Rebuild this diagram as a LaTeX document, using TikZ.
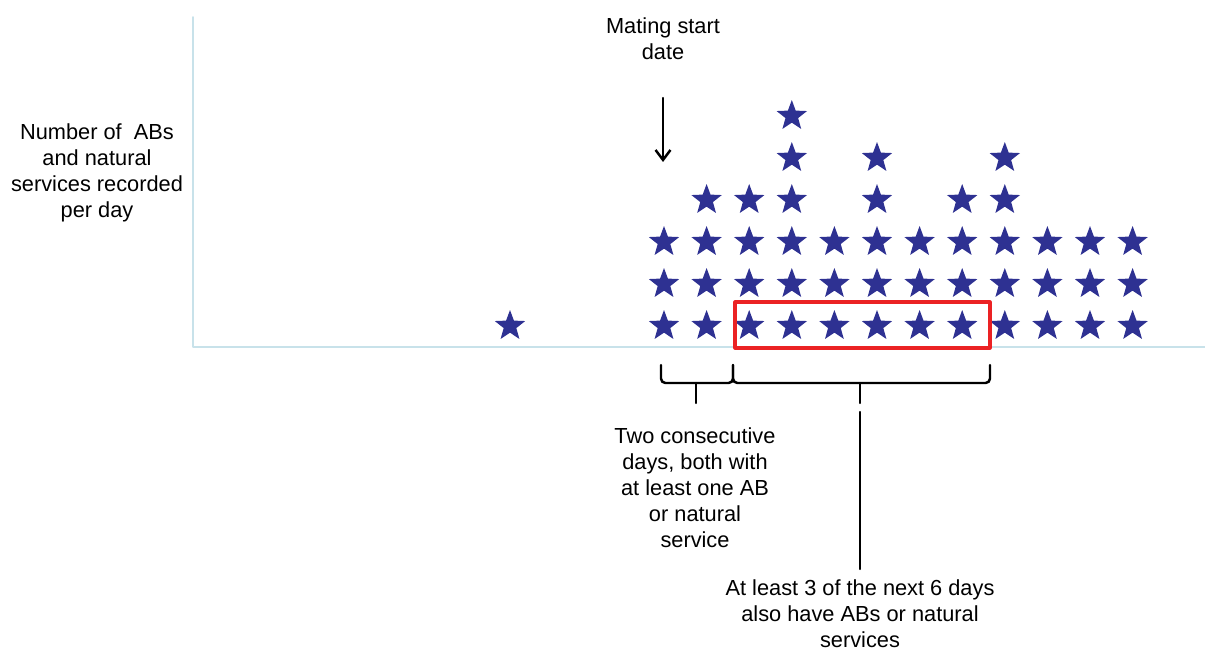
\documentclass[tikz,border=0pt]{standalone}
\usepackage{fontspec}
\setmainfont{Liberation Sans}
\usetikzlibrary{shapes.geometric,arrows.meta}
\definecolor{starblue}{RGB}{46,49,146}
\definecolor{axisblue}{RGB}{200,226,234}
\definecolor{boxred}{RGB}{235,34,36}
\begin{document}
\begin{tikzpicture}[x=0.02cm,y=-0.02cm,line cap=round,line join=round,
  ab/.style={star,star points=5,star point ratio=2.4,fill=starblue,draw=none,inner sep=0pt,minimum size=0.64cm},
  lbl/.style={align=center,inner sep=0pt,font=\fontsize{12.4}{14.8}\selectfont},
  brk/.style={line width=1.4pt,rounded corners=2.5pt}]
\useasboundingbox (0,0) rectangle (1205,652);
\coordinate (ytop) at (193,17);
\coordinate (origin) at (193,347);
\coordinate (xend) at (1205,347);
\draw[axisblue,line width=1.1pt] (ytop) -- (origin) -- (xend);
\node[ab] (s) at (510,326) {};
\foreach \i/\n in {0/3,1/4,2/4,3/6,4/3,5/5,6/3,7/4,8/5,9/3,10/3,11/3}
  \foreach \j in {1,...,\n}
    \node[ab] (s\i-\j) at (664+42.6*\i,368-42*\j) {};
\draw[boxred,line width=1.8pt] (735,302) rectangle (990,348);
\node[lbl,anchor=north] (ylbl) at (97,123) {Number of~ ABs\\and natural\\services recorded\\per day};
\node[lbl,anchor=north] (start) at (663,17) {Mating start\\date};
\coordinate (arrowtop) at (663,98);
\coordinate (arrowend) at (663,162);
\draw[-{Straight Barb[length=0.2cm,width=0.3cm]},line width=1.4pt] (arrowtop) -- (arrowend);
\coordinate (b1) at (661,365);
\coordinate (b2) at (733,365);
\coordinate (b3) at (990,365);
\coordinate (t1) at (696,383);
\coordinate (t2) at (860,383);
\coordinate (t1tip) at (696,403);
\coordinate (t2tip) at (860,403);
\draw[brk] (b1) |- (t1) -| (b2);
\draw[brk] (b2) |- (t2) -| (b3);
\draw[brk] (t1) -- (t1tip);
\draw[brk] (t2) -- (t2tip);
\node[lbl,anchor=north] (twodays) at (695,427) {Two consecutive\\days, both with\\at least one AB\\or natural\\service};
\node[lbl,anchor=north] (nextsix) at (860,579) {At least 3 of the next 6 days\\also have ABs or natural\\services};
\coordinate (tip) at (860,412);
\draw[line width=1.3pt,shorten >=0.2cm] (tip) -- (nextsix.north);
\end{tikzpicture}
\end{document}
